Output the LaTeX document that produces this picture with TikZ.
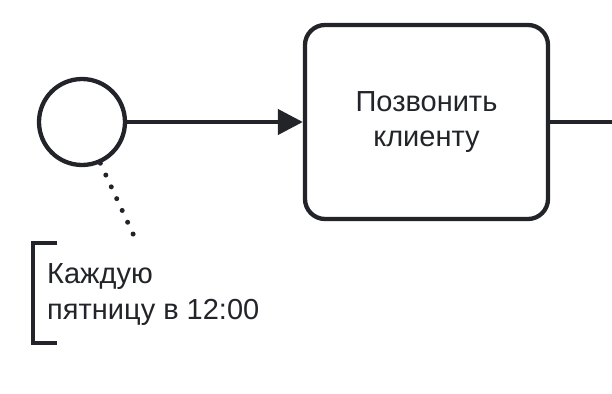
\documentclass[tikz,border=0pt]{standalone}
\usepackage{fontspec}
\setmainfont{Liberation Sans}
\usetikzlibrary{positioning,calc}
\usetikzlibrary{arrows.meta}
\definecolor{InkDark}{RGB}{34,36,42}
\tikzset{
	startev/.style={circle,draw=InkDark,line width=4.3pt,fill=white,minimum size=86pt,inner sep=0pt},
	task/.style={draw=InkDark,line width=4.3pt,fill=white,rounded corners=20pt,minimum width=243pt,
		minimum height=194pt,align=center,font=\fontsize{29}{35}\selectfont,text=InkDark},
	flow/.style={draw=InkDark,line width=4.3pt},
	assoc/.style={draw=InkDark,line width=5pt,line cap=round,dash pattern=on 0pt off 13pt},
	note/.style={align=left,font=\fontsize{29}{36}\selectfont,text=InkDark,inner sep=0pt},
}
\begin{document}
\begin{tikzpicture}[x=1pt,y=-1pt]
			\useasboundingbox (0,0) rectangle (612,393);
			\node[startev] (start) at (82,122) {};
			\node[task] (call) at (426.5,122) {Позвонить\\клиенту};
			\coordinate (out) at (612,122);
			\draw[flow,-{Triangle[length=25pt,width=25pt]}] (start.east)--(call.west);
			\draw[flow] (call.east)--(out);
			% annotation
			\coordinate (nb) at (134,236);
			\draw[assoc] (start.-66) -- (nb);
			\coordinate (bt) at (57,243);
			\coordinate (bb) at (57,343);
			\draw[flow] (bt)--(33,243)--(33,343)--(bb);
			\node[note,anchor=north west] (txt) at (47,263) {Каждую\\пятницу в 12:00};
		\end{tikzpicture}
\end{document}
